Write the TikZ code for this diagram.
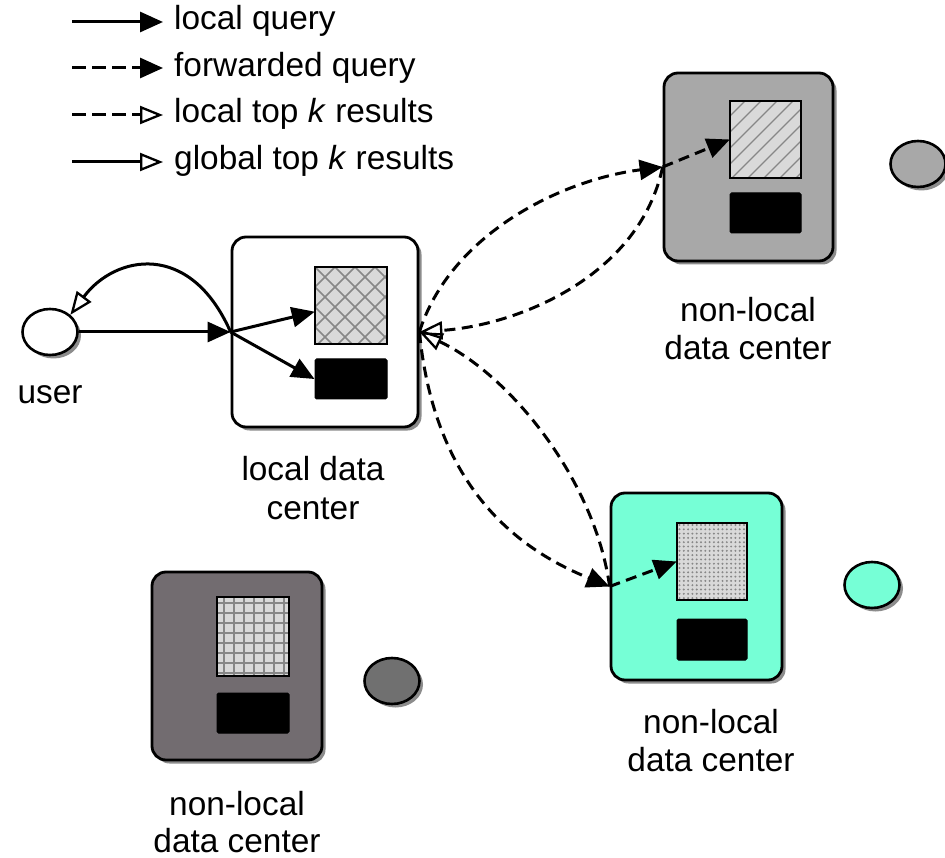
\documentclass[tikz,border=0pt]{standalone}
\usepackage{fontspec}
\setmainfont{Liberation Sans}
\usetikzlibrary{arrows.meta,shadows,shapes.geometric,calc}
\definecolor{dcteal}{RGB}{118,255,214}
\definecolor{dcgray}{RGB}{168,168,168}
\definecolor{dcdark}{RGB}{114,108,112}
\definecolor{dcdarkdisk}{RGB}{112,112,112}
\definecolor{patbg}{RGB}{217,217,217}
\definecolor{patline}{RGB}{135,135,135}
\begin{document}
\begin{tikzpicture}[x=1pt,y=-1pt,
  font=\fontsize{33.4}{40}\selectfont,
  shade3/.style={drop shadow={shadow xshift=3.5pt,shadow yshift=-3.5pt,fill=black!45,opacity=1}},
  dcbox/.style={draw=black,line width=2.8pt,rounded corners=14pt,shade3},
  disk/.style={ellipse,draw=black,line width=2.6pt,minimum width=55pt,minimum height=46pt,inner sep=0pt,shade3},
  panel/.style={rectangle,inner sep=0pt,fill=patbg,minimum width=72pt,minimum height=77pt},
  store/.style={rectangle,inner sep=0pt,fill=black,draw=black,line width=1pt,rounded corners=1.5pt,minimum width=72pt,minimum height=40pt},
  fillhead/.style={-{Triangle[length=23pt,width=20pt]}},
  openhead/.style={-{Triangle[open,length=23pt,width=18pt,line width=2.3pt]}},
  qline/.style={line width=3pt,fillhead},
  gline/.style={line width=3pt,openhead},
  fwline/.style={line width=3pt,dash pattern=on 11pt off 6.5pt,fillhead},
  resline/.style={line width=3pt,dash pattern=on 11pt off 6.5pt,openhead},
  label/.style={align=center,inner sep=0pt}
]
\useasboundingbox (0,0) rectangle (945,858);

% ---------- legend ----------
\coordinate (la1) at (72,22);  \coordinate (lb1) at (163,22);
\coordinate (la2) at (72,68);  \coordinate (lb2) at (163,68);
\coordinate (la3) at (72,115); \coordinate (lb3) at (163,115);
\coordinate (la4) at (72,162); \coordinate (lb4) at (163,162);
\draw[qline] (la1) -- (lb1);
\draw[line width=3pt,dash pattern=on 14pt off 6pt,fillhead] (la2) -- (lb2);
\draw[line width=3pt,dash pattern=on 14pt off 6pt,openhead] (la3) -- (lb3);
\draw[gline] (la4) -- (lb4);
\node[anchor=base west,inner sep=0pt] (t1) at (174,30) {local query};
\node[anchor=base west,inner sep=0pt] (t2) at (174,77) {forwarded query};
\node[anchor=base west,inner sep=0pt] (t3) at (174,123) {local top \textit{k} results};
\node[anchor=base west,inner sep=0pt] (t4) at (174,170) {global top \textit{k} results};

% ---------- user ----------
\node[disk,fill=white] (user) at (50,332) {};
\node[anchor=base,inner sep=0pt] (userlbl) at (50,403) {user};

% ---------- data center boxes ----------
\node[dcbox,fill=white,minimum width=186pt,minimum height=190pt] (ldc) at (325,332) {};
\node[dcbox,fill=dcgray,minimum width=169pt,minimum height=188pt] (nd1) at (748.5,167) {};
\node[dcbox,fill=dcteal,minimum width=171pt,minimum height=187pt] (nd2) at (696.5,586.5) {};
\node[dcbox,fill=dcdark,minimum width=170pt,minimum height=188pt] (nd3) at (237,666) {};

% ---------- disks beside the remote centers ----------
\node[disk,fill=dcgray] (d1) at (918,164) {};
\node[disk,fill=dcteal] (d2) at (872,585) {};
\node[disk,fill=dcdarkdisk] (d3) at (392,681) {};

% ---------- local center contents ----------
\node[panel] (ldq) at (351,305.5) {};
\begin{scope}
  \clip (ldq.north west) rectangle (ldq.south east);
  \foreach \c in {0,20,...,220} {
    \draw[patline,line width=1.7pt] (315+\c-100,267) -- ++(100,100);
    \draw[patline,line width=1.7pt] (315+\c,267) -- ++(-100,100);
  }
\end{scope}
\draw[line width=2.2pt] (ldq.north west) rectangle (ldq.south east);
\node[store] (ldr) at (351,379) {};

% ---------- upper remote center contents ----------
\node[panel,minimum width=71pt] (nq1) at (765.5,139.5) {};
\begin{scope}
  \clip (nq1.north west) rectangle (nq1.south east);
  \foreach \c in {0,16,...,176} {
    \draw[patline,line width=1.4pt] (730+\c-80,180) -- ++(80,-80);
  }
\end{scope}
\draw[line width=2.2pt] (nq1.north west) rectangle (nq1.south east);
\node[store,minimum width=71pt] (nr1) at (765.5,213) {};

% ---------- teal remote center contents ----------
\node[panel,minimum width=70pt] (nq2) at (712,561.5) {};
\begin{scope}
  \clip (nq2.north west) rectangle (nq2.south east);
  \foreach \i in {0,...,16} {
    \foreach \j in {0,...,18} {
      \fill[patline] (679.5+\i*4.3,525+\j*4.3) circle (1.1);
    }
  }
\end{scope}
\draw[line width=2.2pt] (nq2.north west) rectangle (nq2.south east);
\node[store,minimum width=70pt,minimum height=41pt] (nr2) at (712,639.5) {};

% ---------- lower-left remote center contents ----------
\node[panel,minimum height=79pt] (nq3) at (253,636.5) {};
\begin{scope}
  \clip (nq3.north west) rectangle (nq3.south east);
  \foreach \k in {0,...,7} {
    \draw[patline,line width=2pt] (217+7+\k*10,597) -- ++(0,79);
  }
  \foreach \k in {0,...,8} {
    \draw[patline,line width=2pt] (217,597+6+\k*10) -- ++(72,0);
  }
\end{scope}
\draw[line width=2.2pt] (nq3.north west) rectangle (nq3.south east);
\node[store] (nr3) at (253,713) {};

% ---------- labels ----------
\node[label,anchor=base] (lbl0a) at (313,480) {local data};
\node[label,anchor=base] (lbl0b) at (313,519) {center};
\node[label,anchor=base] (lbl1a) at (748,322) {non-local};
\node[label,anchor=base] (lbl1b) at (748,360) {data center};
\node[label,anchor=base] (lbl2a) at (711,733) {non-local};
\node[label,anchor=base] (lbl2b) at (711,771) {data center};
\node[label,anchor=base] (lbl3a) at (237,815) {non-local};
\node[label,anchor=base] (lbl3b) at (237,852) {data center};

% ---------- local query and answer ----------
\draw[qline] (user.east) -- (ldc.west);
\draw[qline] (ldc.west) -- ($(ldq.north west)!0.58!(ldq.south west)$);
\draw[qline] (ldc.west) -- (ldr.west);
\draw[gline] (ldc.west) .. controls (190,240) and (115,255) .. (user.north east);

% ---------- forwarded queries and remote results ----------
\draw[fwline] (ldc.east) .. controls (450,235) and (560,180) .. (nd1.west);
\draw[resline] (nd1.west) .. controls (640,275) and (520,325) .. (ldc.east);
\draw[fwline] (ldc.east) .. controls (435,490) and (520,550) .. (nd2.west);
\draw[resline] (nd2.west) .. controls (595,480) and (510,375) .. (ldc.east);
\draw[fwline] (nd1.west) -- (nq1.west);
\draw[fwline] (nd2.west) -- (nq2.west);
\end{tikzpicture}
\end{document}
